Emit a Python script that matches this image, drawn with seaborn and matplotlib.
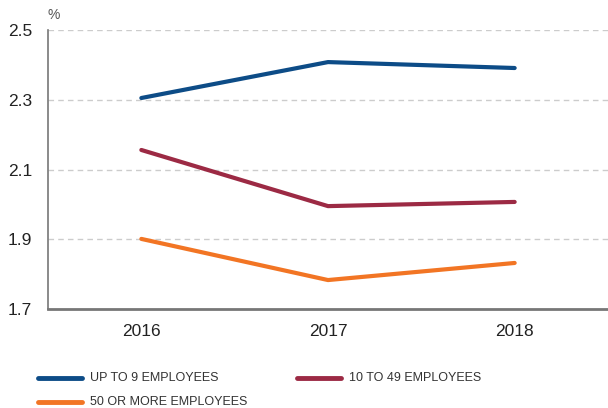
import matplotlib
matplotlib.use("Agg")
import matplotlib.pyplot as plt
import seaborn as sns
import pandas as pd

years = ["2016", "2017", "2018"]
up_to_9 = [2.305, 2.408, 2.391]
from_10_to_49 = [2.156, 1.995, 2.007]
fifty_plus = [1.901, 1.783, 1.832]
series_names = ["UP TO 9 EMPLOYEES", "10 TO 49 EMPLOYEES", "50 OR MORE EMPLOYEES"]
colors = ["#0d4c87", "#9c2a44", "#f27524"]
yticks = [1.7, 1.9, 2.1, 2.3, 2.5]

df = pd.DataFrame({
    "year": years * 3,
    "value": up_to_9 + from_10_to_49 + fifty_plus,
    "series": sum([[n] * 3 for n in series_names], []),
})
df["x"] = df["year"].map({y: i for i, y in enumerate(years)})

sns.set_style("white")
plt.rcParams["font.family"] = ["Liberation Sans", "DejaVu Sans"]

fig = plt.figure(figsize=(6.08, 4.08), dpi=100)
ax = fig.add_axes([48 / 608, 1 - 309 / 408, 560 / 608, 279 / 408])

sns.lineplot(data=df, x="x", y="value", hue="series", hue_order=series_names,
             palette=colors, linewidth=3, ax=ax, legend=False)

ax.set_xlim(-0.5, 2.5)
ax.set_ylim(1.7, 2.5)
ax.set_xticks(range(len(years)))
ax.set_xticklabels(years, fontsize=12.5, color="#222222")
ax.set_yticks(yticks)
ax.set_yticklabels([f"{v:.1f}" for v in yticks], fontsize=12.5, color="#222222")
ax.set_xlabel("")
ax.set_ylabel("")
ax.tick_params(axis="x", length=0, pad=11)
ax.tick_params(axis="y", length=0, pad=11.5)
for y in yticks[1:]:
    ax.axhline(y, color="#cccccc", linestyle=(0, (4, 3)), linewidth=1, zorder=0)
for s in ["top", "right"]:
    ax.spines[s].set_visible(False)
ax.spines["left"].set_color("#777777")
ax.spines["bottom"].set_color("#777777")
ax.spines["left"].set_linewidth(1.2)
ax.spines["bottom"].set_linewidth(2)

fig.text(47 / 608, 1 - 15 / 408, "%", fontsize=10, color="#555555", va="center", ha="left")

# legend
leg_items = [(38, 378, 0), (297, 378, 1), (38, 402, 2)]
for x0, y0, i in leg_items:
    fig.add_artist(plt.Line2D([x0 / 608, (x0 + 44) / 608], [1 - y0 / 408] * 2,
                              color=colors[i], linewidth=3.5))
    fig.text((x0 + 52) / 608, 1 - y0 / 408, series_names[i], fontsize=9,
             color="#333333", va="center", ha="left")

fig.savefig("out.png", dpi=100)
